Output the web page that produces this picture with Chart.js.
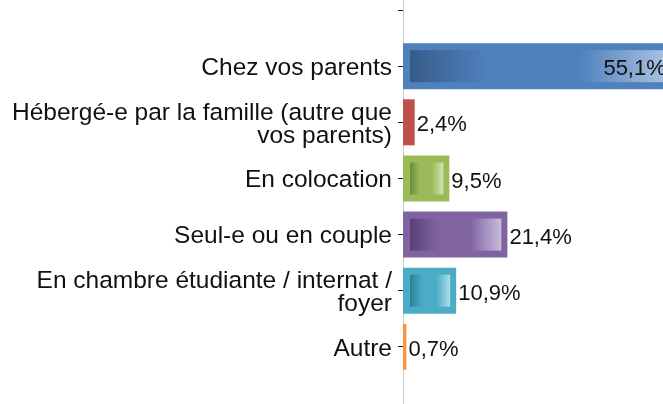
<!DOCTYPE html>
<html>
<head>
<meta charset="utf-8">
<script src="https://cdn.jsdelivr.net/npm/chart.js@4/dist/chart.umd.min.js"></script>
<style>
  html, body { margin: 0; padding: 0; background: #fff; overflow: hidden; width: 663px; height: 404px; }
  #wrap { position: absolute; left: 0; top: -18px; width: 663px; height: 449px; }
</style>
</head>
<body>
<div id="wrap"><canvas id="chart" width="663" height="449"></canvas></div>
<script>
// empty first/last rows: the axis runs past the visible categories
const labels = [
  '',
  'Chez vos parents',
  ['Hébergé-e par la famille (autre que', 'vos parents)'],
  'En colocation',
  'Seul-e ou en couple',
  ['En chambre étudiante / internat /', 'foyer'],
  'Autre',
  ''
];
const values = [null, 55.1, 2.4, 9.5, 21.4, 10.9, 0.7, null];
const baseColors = [null, '#4F81BD', '#C0504D', '#9BBB59', '#8064A2', '#4BACC6', '#F79646', null];
const darkColors = [null, '#375B89', '#8E3A38', '#6C8A38', '#574078', '#2E7F96', '#B86A2C', null];
const lightColors = [null, '#A9C1E0', '#E3A9A7', '#D3E2B6', '#C9BCDB', '#B2DEEA', '#FBCDA9', null];

const FONT = 'Liberation Sans, Arial, sans-serif';
const fmt = v => v.toFixed(1).replace('.', ',') + '%';

// inner gradient panel, Excel style
const innerGradient = {
  id: 'innerGradient',
  afterDatasetsDraw(chart) {
    const ctx = chart.ctx;
    const meta = chart.getDatasetMeta(0);
    const area = chart.chartArea;
    ctx.save();
    ctx.beginPath();
    ctx.rect(area.left, area.top, area.right - area.left, area.bottom - area.top);
    ctx.clip();
    meta.data.forEach((bar, i) => {
      if (values[i] == null) return;
      const inset = 7;
      const left = Math.min(bar.base, bar.x) + inset;
      const right = Math.max(bar.base, bar.x) - 6;
      const top = bar.y - bar.height / 2 + inset;
      const bottom = bar.y + bar.height / 2 - inset;
      if (right - left < 8) return;
      const g = ctx.createLinearGradient(left, 0, right, 0);
      g.addColorStop(0, darkColors[i]);
      g.addColorStop(0.3, baseColors[i]);
      g.addColorStop(0.66, baseColors[i]);
      g.addColorStop(1, lightColors[i]);
      ctx.fillStyle = g;
      ctx.fillRect(left, top, right - left, bottom - top);
    });
    ctx.restore();

    // value labels
    ctx.save();
    ctx.font = '22px ' + FONT;
    ctx.fillStyle = '#111';
    ctx.textBaseline = 'middle';
    meta.data.forEach((bar, i) => {
      if (values[i] == null) return;
      const end = chart.scales.x.getPixelForValue(values[i]);
      if (end > area.right) {
        ctx.textAlign = 'right';
        ctx.fillText(fmt(values[i]), end - 6, bar.y + 3);
      } else {
        ctx.textAlign = 'left';
        ctx.fillText(fmt(values[i]), end + 2, bar.y + 3);
      }
    });
    ctx.restore();
  }
};

new Chart(document.getElementById('chart'), {
  type: 'bar',
  data: {
    labels,
    datasets: [{
      data: values,
      backgroundColor: baseColors,
      borderWidth: 0,
      categoryPercentage: 1,
      barPercentage: 0.82
    }]
  },
  options: {
    indexAxis: 'y',
    responsive: false,
    animation: false,
    devicePixelRatio: 1,
    layout: { padding: 0 },
    plugins: { legend: { display: false }, tooltip: { enabled: false } },
    scales: {
      x: { display: false, min: 0, max: 53.3 },
      y: {
        afterFit: scale => {
          scale.width = 403;
          scale.paddingTop = 0;
          scale.paddingBottom = 0;
        },
        border: { display: true, color: '#c9c9c9', width: 1 },
        grid: {
          offset: false,
          drawOnChartArea: false,
          drawTicks: true,
          tickLength: 5,
          tickColor: c => c.index === 7 ? 'rgba(0,0,0,0)' : '#222'
        },
        ticks: {
          color: '#111',
          padding: 6,
          labelOffset: 2,
          font: { family: FONT, size: 24.5, lineHeight: '23px' }
        }
      }
    }
  },
  plugins: [innerGradient]
});
</script>
</body>
</html>
